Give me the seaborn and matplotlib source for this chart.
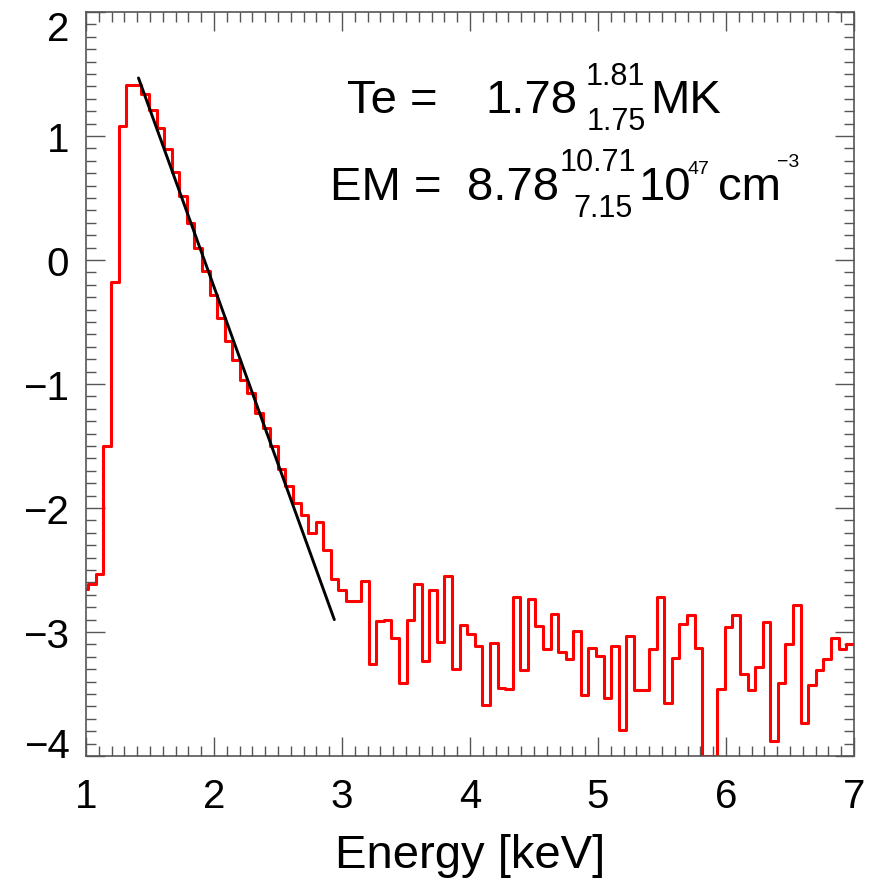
import numpy as np
import pandas as pd
import matplotlib
matplotlib.use("Agg")
import matplotlib.pyplot as plt
import matplotlib.transforms as mtransforms
import seaborn as sns
from matplotlib.ticker import MultipleLocator, FixedLocator

# ---------------- data ----------------
bin_start_kev = 0.959
bin_width_kev = 0.0592
log_counts = [
    -2.65, -2.61, -2.53, -1.50, -0.18, 1.08, 1.41, 1.41, 1.34, 1.21,
    1.065, 0.895, 0.707, 0.513, 0.298, 0.097, -0.091, -0.28, -0.47, -0.65,
    -0.81, -0.97, -1.07, -1.23, -1.355, -1.50, -1.685, -1.82, -1.96, -2.056,
    -2.20, -2.11, -2.336, -2.57, -2.66, -2.75, -2.75, -2.59, -3.26, -2.91,
    -2.90, -3.05, -3.41, -2.90, -2.61, -3.23, -2.66, -3.08, -2.55, -3.30,
    -2.94, -3.02, -3.115, -3.59, -3.09, -3.45, -3.46, -2.715, -3.31, -2.73,
    -2.95, -3.14, -2.855, -3.16, -3.22, -2.99, -3.51, -3.13, -3.19, -3.535,
    -3.115, -3.79, -3.03, -3.465, -3.47, -3.14, -2.715, -3.57, -3.21, -2.935,
    -2.86, -3.125, -4.0, -4.0, -3.46, -2.96, -2.86, -3.34, -3.47, -3.28,
    -2.92, -3.88, -3.41, -3.10, -2.78, -3.73, -3.43, -3.31, -3.22, -3.05,
    -3.14, -3.10,
]
fit_energy = [1.41, 2.94]
fit_log_counts = [1.468, -2.90]

x_ticks = [1, 2, 3, 4, 5, 6, 7]
y_ticks = [-4, -3, -2, -1, 0, 1, 2]
x_label = "Energy [keV]"

# ---------------- figure ----------------
sns.set_style("ticks")
plt.rcParams["font.family"] = ["Liberation Sans", "DejaVu Sans"]
plt.rcParams["text.color"] = "black"
plt.rcParams["xtick.labelcolor"] = "black"
plt.rcParams["ytick.labelcolor"] = "black"
plt.rcParams["axes.labelcolor"] = "black"

W, H = 877, 879
fig = plt.figure(figsize=(W / 100, H / 100), dpi=100)
ax = fig.add_axes([86 / W, 1 - 757 / H, (854 - 86) / W, (757 - 13) / H])

edges = bin_start_kev + bin_width_kev * np.arange(len(log_counts) + 1)
step_df = pd.DataFrame({"energy": edges, "value": list(log_counts) + [log_counts[-1]]})
sns.lineplot(data=step_df, x="energy", y="value", drawstyle="steps-post",
             color="#ff0000", linewidth=2.2, ax=ax, estimator=None, sort=False)

fit_df = pd.DataFrame({"energy": fit_energy, "value": fit_log_counts})
sns.lineplot(data=fit_df, x="energy", y="value", color="black", linewidth=2.1,
             ax=ax, estimator=None, sort=False)

ax.set_xlim(1, 7)
ax.set_ylim(-4, 2)
ax.xaxis.set_major_locator(FixedLocator(x_ticks))
ax.yaxis.set_major_locator(FixedLocator(y_ticks))
ax.xaxis.set_minor_locator(MultipleLocator(0.1))
ax.yaxis.set_minor_locator(MultipleLocator(0.1))
ax.set_xticklabels([str(t) for t in x_ticks])
ax.set_yticklabels([str(t).replace("-", "\u2212") for t in y_ticks])

spine_c = "#555555"
for s in ax.spines.values():
    s.set_color(spine_c)
    s.set_linewidth(1.2)
ax.tick_params(which="both", direction="in", top=True, right=True,
               color=spine_c, width=1.0)
ax.tick_params(which="major", length=14)
ax.tick_params(which="minor", length=7)
ax.tick_params(axis="x", which="major", labelsize=29, pad=15, labelcolor="black")
ax.tick_params(axis="y", which="major", labelsize=29, pad=12, labelcolor="black")

# extreme y labels sit inside the axis range, as in the reference
ylabels = ax.get_yticklabels()
shift_px = {"\u22124": 14, "2": -13}
for lab in ylabels:
    dy = shift_px.get(lab.get_text())
    if dy is not None:
        lab.set_transform(lab.get_transform() +
                          mtransforms.ScaledTranslation(0, dy / 100, fig.dpi_scale_trans))

ax.set_xlabel(x_label, fontsize=34, labelpad=13, color="black")
ax.set_ylabel("")

# ---------------- annotation ----------------
def ftxt(px, py, s, size, **kw):
    fig.text(px / W, 1 - py / H, s, fontsize=size, ha="left", va="baseline",
             color="black", **kw)

ftxt(347, 113, "Te =", 34)
ftxt(485, 113, "1.78", 34)
ftxt(586, 85, "1.81", 22)
ftxt(587, 130, "1.75", 22)
ftxt(650, 113, "MK", 34)

ftxt(330, 200, "EM =", 34)
ftxt(467, 200, "8.78", 34)
ftxt(560, 171, "10.71", 22)
ftxt(573, 217, "7.15", 22)
ftxt(638, 200, "10", 34)
ftxt(688, 174, "47", 14)
ftxt(718, 200, "cm", 34)
ftxt(777, 167, "\u22123", 14)

fig.savefig("out.png", dpi=100)
